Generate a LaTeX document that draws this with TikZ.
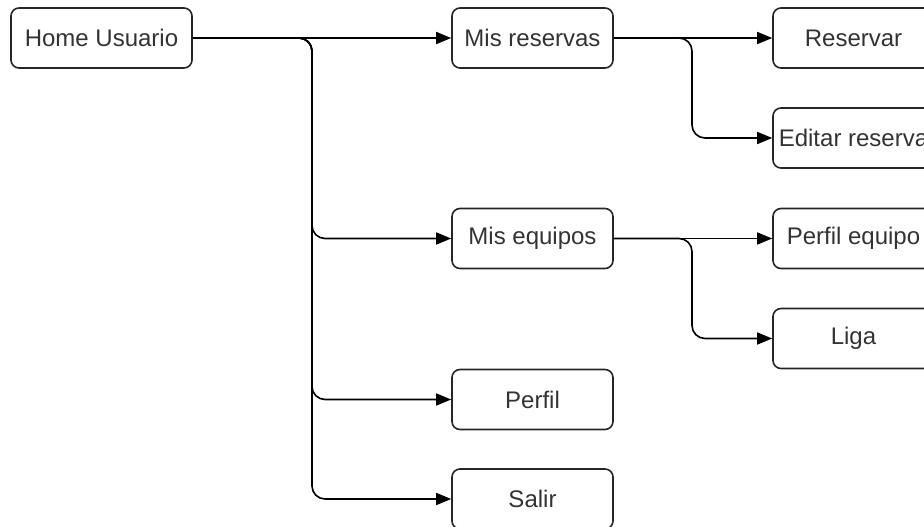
\documentclass[tikz,border=0pt]{standalone}
\usepackage{fontspec}
\setmainfont{Liberation Sans}
\usetikzlibrary{arrows.meta}
\definecolor{txt}{HTML}{333333}
\tikzset{
  box/.style={draw=black!85, line width=1.6pt, rounded corners=8pt, fill=white,
    minimum height=60pt, inner sep=0pt, text=txt, font=\fontsize{24}{26}\selectfont},
  wbox/.style={box, minimum width=161pt},
  conn/.style={draw=black, line width=1.6pt, rounded corners=13pt,
    -{Triangle[length=15pt,width=12pt]}},
}
\begin{document}
\begin{tikzpicture}[x=1pt,y=-1pt]
\useasboundingbox (0,0) rectangle (924,527);
\clip (0,0) rectangle (924,527);
\fill[white] (0,0) rectangle (924,527);
\node[box, minimum width=181pt] (home) at (101.5,38) {Home Usuario};
\node[wbox] (mres) at (532.5,38) {Mis reservas};
\node[wbox] (mequ) at (532.5,238.5) {Mis equipos};
\node[wbox] (perf) at (532.5,399.5) {Perfil};
\node[wbox] (sal) at (532.5,499) {Salir};
\node[wbox] (res) at (853.5,38) {Reservar};
\node[wbox] (edit) at (853.5,138) {Editar reserva};
\node[wbox] (pequ) at (853.5,238.5) {Perfil equipo};
\node[wbox] (liga) at (853.5,338.5) {Liga};
\coordinate (j1) at (312,38);
\coordinate (j2) at (692,38);
\coordinate (j3) at (692,238.5);
\draw[conn] (home.east) -- (mres.west);
\draw[conn] (home.east) -- (j1) |- (mequ.west);
\draw[conn] (home.east) -- (j1) |- (perf.west);
\draw[conn] (home.east) -- (j1) |- (sal.west);
\draw[conn] (mres.east) -- (res.west);
\draw[conn] (mres.east) -- (j2) |- (edit.west);
\draw[conn] (mequ.east) -- (pequ.west);
\draw[conn] (mequ.east) -- (j3) |- (liga.west);
\end{tikzpicture}
\end{document}
